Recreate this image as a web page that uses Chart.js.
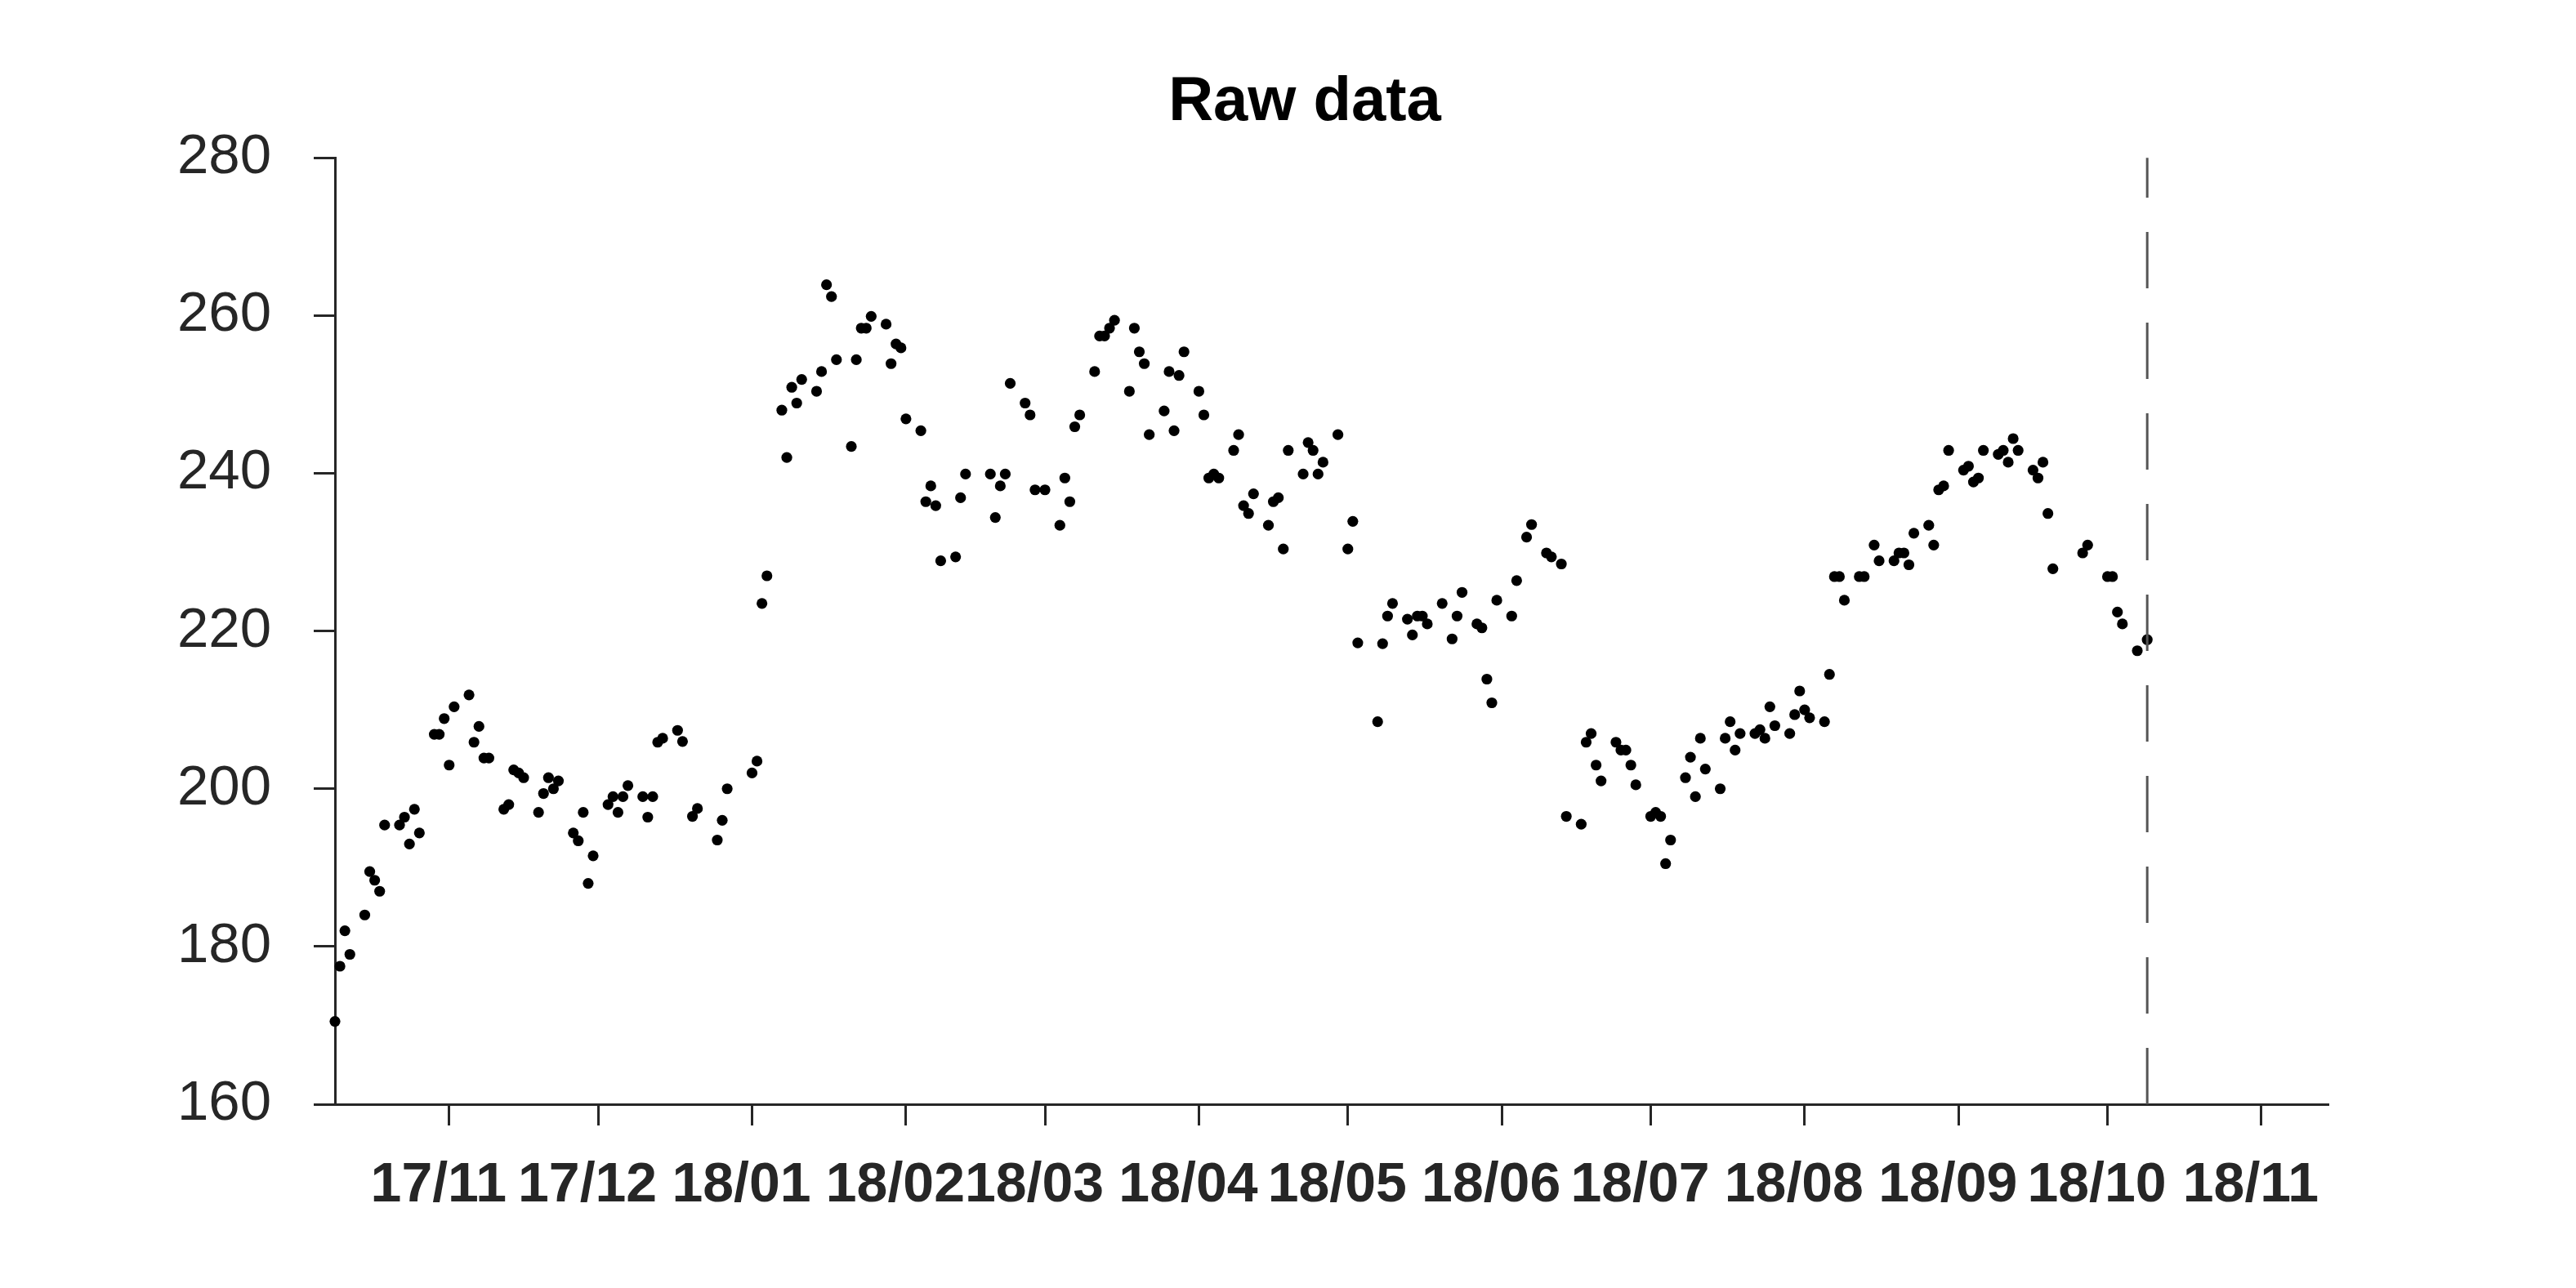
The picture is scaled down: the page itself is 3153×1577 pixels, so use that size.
<!DOCTYPE html>
<html><head><meta charset="utf-8">
<script src="https://cdn.jsdelivr.net/npm/chart.js@4.4.1/dist/chart.umd.min.js"></script>
<style>html,body{margin:0;padding:0;background:#fff;overflow:hidden}canvas{display:block}</style>
</head><body>
<canvas id="c" width="3153" height="1577"></canvas>
<script>
const titleText = 'Raw data';

const dates = [
 '2017-10-09','2017-10-10','2017-10-11','2017-10-12','2017-10-15','2017-10-16','2017-10-17','2017-10-18','2017-10-19','2017-10-22','2017-10-23','2017-10-24','2017-10-25','2017-10-26','2017-10-29','2017-10-30','2017-10-31',
 '2017-11-01','2017-11-02','2017-11-05','2017-11-06','2017-11-07','2017-11-08','2017-11-09','2017-11-12','2017-11-13','2017-11-14','2017-11-15','2017-11-16','2017-11-19','2017-11-20','2017-11-21','2017-11-22','2017-11-23','2017-11-26','2017-11-27','2017-11-28','2017-11-29','2017-11-30',
 '2017-12-03','2017-12-04','2017-12-05','2017-12-06','2017-12-07','2017-12-10','2017-12-11','2017-12-12','2017-12-13','2017-12-14','2017-12-17','2017-12-18','2017-12-20','2017-12-21','2017-12-25','2017-12-26','2017-12-27',
 '2018-01-01','2018-01-02','2018-01-03','2018-01-04','2018-01-07','2018-01-08','2018-01-09','2018-01-10','2018-01-11','2018-01-14','2018-01-15','2018-01-16','2018-01-17','2018-01-18','2018-01-21','2018-01-22','2018-01-23','2018-01-24','2018-01-25','2018-01-28','2018-01-29','2018-01-30','2018-01-31',
 '2018-02-01','2018-02-04','2018-02-05','2018-02-06','2018-02-07','2018-02-08','2018-02-11','2018-02-12','2018-02-13','2018-02-18','2018-02-19','2018-02-20','2018-02-21','2018-02-22','2018-02-25','2018-02-26','2018-02-27',
 '2018-03-01','2018-03-04','2018-03-05','2018-03-06','2018-03-07','2018-03-08','2018-03-11','2018-03-12','2018-03-13','2018-03-14','2018-03-15','2018-03-18','2018-03-19','2018-03-20','2018-03-21','2018-03-22','2018-03-25','2018-03-26','2018-03-27','2018-03-28','2018-03-29',
 '2018-04-01','2018-04-02','2018-04-03','2018-04-04','2018-04-05','2018-04-08','2018-04-09','2018-04-10','2018-04-11','2018-04-12','2018-04-15','2018-04-16','2018-04-17','2018-04-18','2018-04-19','2018-04-22','2018-04-23','2018-04-24','2018-04-25','2018-04-26','2018-04-29',
 '2018-05-01','2018-05-02','2018-05-03','2018-05-07','2018-05-08','2018-05-09','2018-05-10','2018-05-13','2018-05-14','2018-05-15','2018-05-16','2018-05-17','2018-05-20','2018-05-22','2018-05-23','2018-05-24','2018-05-27','2018-05-28','2018-05-29','2018-05-30','2018-05-31',
 '2018-06-03','2018-06-04','2018-06-06','2018-06-07','2018-06-10','2018-06-11','2018-06-13','2018-06-14','2018-06-17','2018-06-18','2018-06-19','2018-06-20','2018-06-21','2018-06-24','2018-06-25','2018-06-26','2018-06-27','2018-06-28',
 '2018-07-01','2018-07-02','2018-07-03','2018-07-04','2018-07-05','2018-07-08','2018-07-09','2018-07-10','2018-07-11','2018-07-12','2018-07-15','2018-07-16','2018-07-17','2018-07-18','2018-07-19','2018-07-22','2018-07-23','2018-07-24','2018-07-25','2018-07-26','2018-07-29','2018-07-30','2018-07-31',
 '2018-08-01','2018-08-02','2018-08-05','2018-08-06','2018-08-07','2018-08-08','2018-08-09','2018-08-12','2018-08-13','2018-08-15','2018-08-16','2018-08-19','2018-08-20','2018-08-21','2018-08-22','2018-08-23','2018-08-26','2018-08-27','2018-08-28','2018-08-29','2018-08-30',
 '2018-09-02','2018-09-03','2018-09-04','2018-09-05','2018-09-06','2018-09-09','2018-09-10','2018-09-11','2018-09-12','2018-09-13','2018-09-16','2018-09-17','2018-09-18','2018-09-19','2018-09-20','2018-09-26','2018-09-27',
 '2018-10-01','2018-10-02','2018-10-03','2018-10-04','2018-10-07','2018-10-09'
];

const values = [
 170.5,177.5,182.0,179.0,184.0,189.5,188.4,187.0,195.4,195.4,196.4,193.0,197.4,194.4,206.9,206.9,208.9,
 203.0,210.4,211.9,205.9,207.9,203.9,203.9,197.4,198.0,202.4,202.0,201.4,197.0,199.4,201.4,200.0,201.0,194.4,193.4,197.0,188.0,191.5,
 198.0,199.0,197.0,199.0,200.4,199.0,196.4,199.0,205.9,206.4,207.4,206.0,196.5,197.5,193.5,196.0,200.0,
 202.0,203.5,223.5,227.0,248.0,242.0,250.9,248.9,251.9,250.4,252.9,263.9,262.4,254.4,243.4,254.4,258.4,258.4,259.9,258.9,253.9,256.4,255.9,
 246.9,245.4,236.4,238.4,235.9,228.9,229.4,236.9,239.9,239.9,234.4,238.4,239.9,251.4,248.9,247.4,237.9,
 237.9,233.4,239.4,236.4,245.9,247.4,252.9,257.4,257.4,258.4,259.4,250.4,258.4,255.4,253.9,244.9,247.9,252.9,245.4,252.4,255.4,
 250.4,247.4,239.4,239.9,239.4,242.9,244.9,235.9,234.9,237.4,233.4,236.4,236.9,230.4,242.9,239.9,243.9,242.9,239.9,241.4,244.9,
 230.4,233.9,218.5,208.5,218.4,221.9,223.5,221.5,219.5,221.9,221.9,220.9,223.5,219.0,221.9,224.9,220.9,220.4,213.9,210.9,223.9,
 221.9,226.4,231.9,233.5,229.9,229.4,228.5,196.5,195.5,205.9,207.0,203.0,201.0,205.9,204.9,204.9,203.0,200.5,
 196.5,197.0,196.5,190.5,193.5,201.4,204.0,199.0,206.4,202.5,200.0,206.4,208.5,204.9,207.0,207.0,207.5,206.4,210.4,208.0,207.0,209.4,212.4,
 210.0,209.0,208.5,214.5,226.9,226.9,223.9,226.9,226.9,230.9,228.9,228.9,229.9,229.9,228.4,232.4,233.4,230.9,237.9,238.4,242.9,
 240.4,240.9,238.9,239.4,242.9,242.4,242.9,241.4,244.4,242.9,240.4,239.4,241.4,234.9,227.9,229.9,230.9,
 226.9,226.9,222.4,220.9,217.5,218.9
];

const yTicks = [160, 180, 200, 220, 240, 260, 280];
const xTickDates = ['2017-11-01','2017-12-01','2018-01-01','2018-02-01','2018-03-01','2018-04-01','2018-05-01','2018-06-01','2018-07-01','2018-08-01','2018-09-01','2018-10-01','2018-11-01'];
const xTickLabels = ['17/11','17/12','18/01','18/02','18/03','18/04','18/05','18/06','18/07','18/08','18/09','18/10','18/11'];

const DAY = 86400000;
const toDay = s => { const p = s.split('-').map(Number); return Date.UTC(p[0], p[1] - 1, p[2]) / DAY; };
const xs = dates.map(toDay);
const xMin = xs[0];
const xLast = xs[xs.length - 1];
const xMax = xLast + 0.1 * (xLast - xMin);
const points = xs.map((x, i) => ({ x: x, y: values[i] }));
const cutoffLine = [{ x: xLast, y: yTicks[0] }, { x: xLast, y: yTicks[yTicks.length - 1] }];
const xTickVals = xTickDates.map(toDay);

const AX = '#262626';
const FONT = 'Liberation Sans, Arial, Helvetica, sans-serif';

new Chart(document.getElementById('c'), {
  type: 'scatter',
  data: {
    datasets: [
      { type: 'line', data: cutoffLine, borderColor: '#555555', borderWidth: 3, borderDash: [69, 42],
        pointRadius: 0, pointHoverRadius: 0, fill: false, order: 0, clip: false },
      { data: points, backgroundColor: '#000000', borderWidth: 0, pointRadius: 6.6, pointHoverRadius: 6.6,
        order: 1, clip: false }
    ]
  },
  options: {
    responsive: false,
    animation: false,
    devicePixelRatio: 1,
    events: [],
    layout: { padding: { left: 200, right: 159, top: 80, bottom: 0 } },
    plugins: {
      legend: { display: false },
      tooltip: { enabled: false },
      title: { display: true, text: titleText, color: '#000000',
        font: { family: FONT, size: 76, weight: 'bold' }, padding: { top: 0, bottom: 22 } }
    },
    scales: {
      x: {
        type: 'linear', min: xMin, max: xMax,
        afterBuildTicks: s => { s.ticks = xTickVals.map(v => ({ value: v })); },
        afterFit: s => { s.height = 225; },
        ticks: { autoSkip: false, maxRotation: 0, minRotation: 0, labelOffset: -13,
          callback: (v, i) => xTickLabels[i],
          color: AX, font: { family: FONT, size: 68, weight: 'bold' }, padding: 33 },
        grid: { drawOnChartArea: false, drawTicks: true, tickLength: 26, tickWidth: 3, tickColor: AX },
        border: { display: true, color: AX, width: 3 }
      },
      y: {
        type: 'linear', position: 'left', min: yTicks[0], max: yTicks[yTicks.length - 1],
        afterBuildTicks: s => { s.ticks = yTicks.map(v => ({ value: v })); },
        afterFit: s => { s.width = 210; },
        ticks: { color: AX, font: { family: FONT, size: 69 }, padding: 52, callback: v => String(v) },
        grid: { drawOnChartArea: false, drawTicks: true, tickLength: 26, tickWidth: 3, tickColor: AX },
        border: { display: true, color: AX, width: 3 }
      },
      yRightSpace: {
        type: 'linear', position: 'right', display: true, min: yTicks[0], max: yTicks[yTicks.length - 1],
        afterFit: s => { s.width = 144; },
        ticks: { display: false },
        grid: { display: false, drawTicks: false },
        border: { display: false }
      }
    }
  }
});
</script>
</body></html>
